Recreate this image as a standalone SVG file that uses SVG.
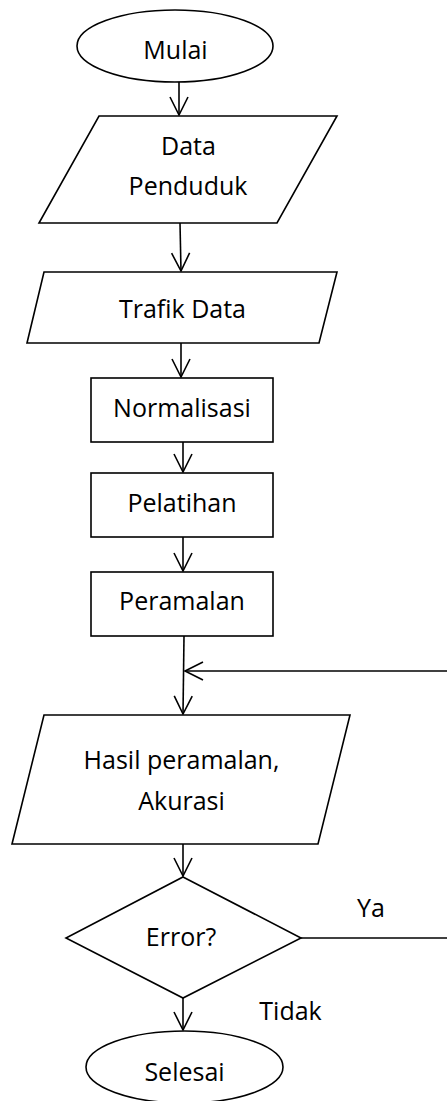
<svg xmlns="http://www.w3.org/2000/svg" width="447" height="1101" viewBox="0 0 447 1101">
<style>
.s{fill:#fff;stroke:#000;stroke-width:1.6}
.t{font-family:"Open Sans","Noto Sans",sans-serif;font-size:25px;fill:#000;text-anchor:middle}
.c{fill:none;stroke:#000;stroke-width:1.6}
</style>
<defs>
<marker id="ah" viewBox="-20 -11 22 22" refX="0" refY="0" markerWidth="22" markerHeight="22" markerUnits="userSpaceOnUse" orient="auto">
<path d="M-18,-9 L0,0 L-18,9" fill="none" stroke="#000" stroke-width="1.6"/>
</marker>
</defs>
<g id="connectors">
<line class="c" x1="179" y1="82" x2="179" y2="115" marker-end="url(#ah)"/>
<line class="c" x1="180" y1="223" x2="181" y2="271" marker-end="url(#ah)"/>
<line class="c" x1="181" y1="343" x2="181" y2="377" marker-end="url(#ah)"/>
<line class="c" x1="183" y1="442" x2="183" y2="472" marker-end="url(#ah)"/>
<line class="c" x1="183" y1="537" x2="183" y2="571" marker-end="url(#ah)"/>
<line class="c" x1="184" y1="636" x2="183" y2="714" marker-end="url(#ah)"/>
<line class="c" x1="447" y1="671" x2="185" y2="671" marker-end="url(#ah)"/>
<line class="c" x1="183" y1="844" x2="183" y2="876" marker-end="url(#ah)"/>
<line class="c" x1="183" y1="998" x2="183" y2="1030" marker-end="url(#ah)"/>
<line class="c" x1="301" y1="938" x2="447" y2="938"/>
</g>
<g id="mulai"><ellipse class="s" cx="175" cy="46" rx="98" ry="36"/><text class="t" x="175.5" y="59">Mulai</text></g>
<g id="data-penduduk"><polygon class="s" points="99,116 337,116 277,223 39,223"/><text class="t" x="188.5" y="155">Data</text><text class="t" x="188" y="195">Penduduk</text></g>
<g id="trafik-data"><polygon class="s" points="44,272 337,272 319,343 27,343"/><text class="t" x="182.5" y="318">Trafik Data</text></g>
<g id="normalisasi"><rect class="s" x="91" y="378" width="182" height="64"/><text class="t" x="182" y="417">Normalisasi</text></g>
<g id="pelatihan"><rect class="s" x="91" y="473" width="182" height="64"/><text class="t" x="182" y="512">Pelatihan</text></g>
<g id="peramalan"><rect class="s" x="91" y="572" width="182" height="64"/><text class="t" x="182" y="610">Peramalan</text></g>
<g id="hasil"><polygon class="s" points="44,715 350,715 318,844 12,844"/><text class="t" x="181.5" y="769">Hasil peramalan,</text><text class="t" x="181.5" y="810">Akurasi</text></g>
<g id="error"><polygon class="s" points="183,877 301,938 183,998 66,938"/><text class="t" x="181" y="946">Error?</text></g>
<g id="labels"><text class="t" x="371" y="917">Ya</text><text class="t" x="290.5" y="1020">Tidak</text></g>
<g id="selesai"><ellipse class="s" cx="184.5" cy="1067" rx="98.5" ry="36"/><text class="t" x="184.5" y="1081">Selesai</text></g>
</svg>
